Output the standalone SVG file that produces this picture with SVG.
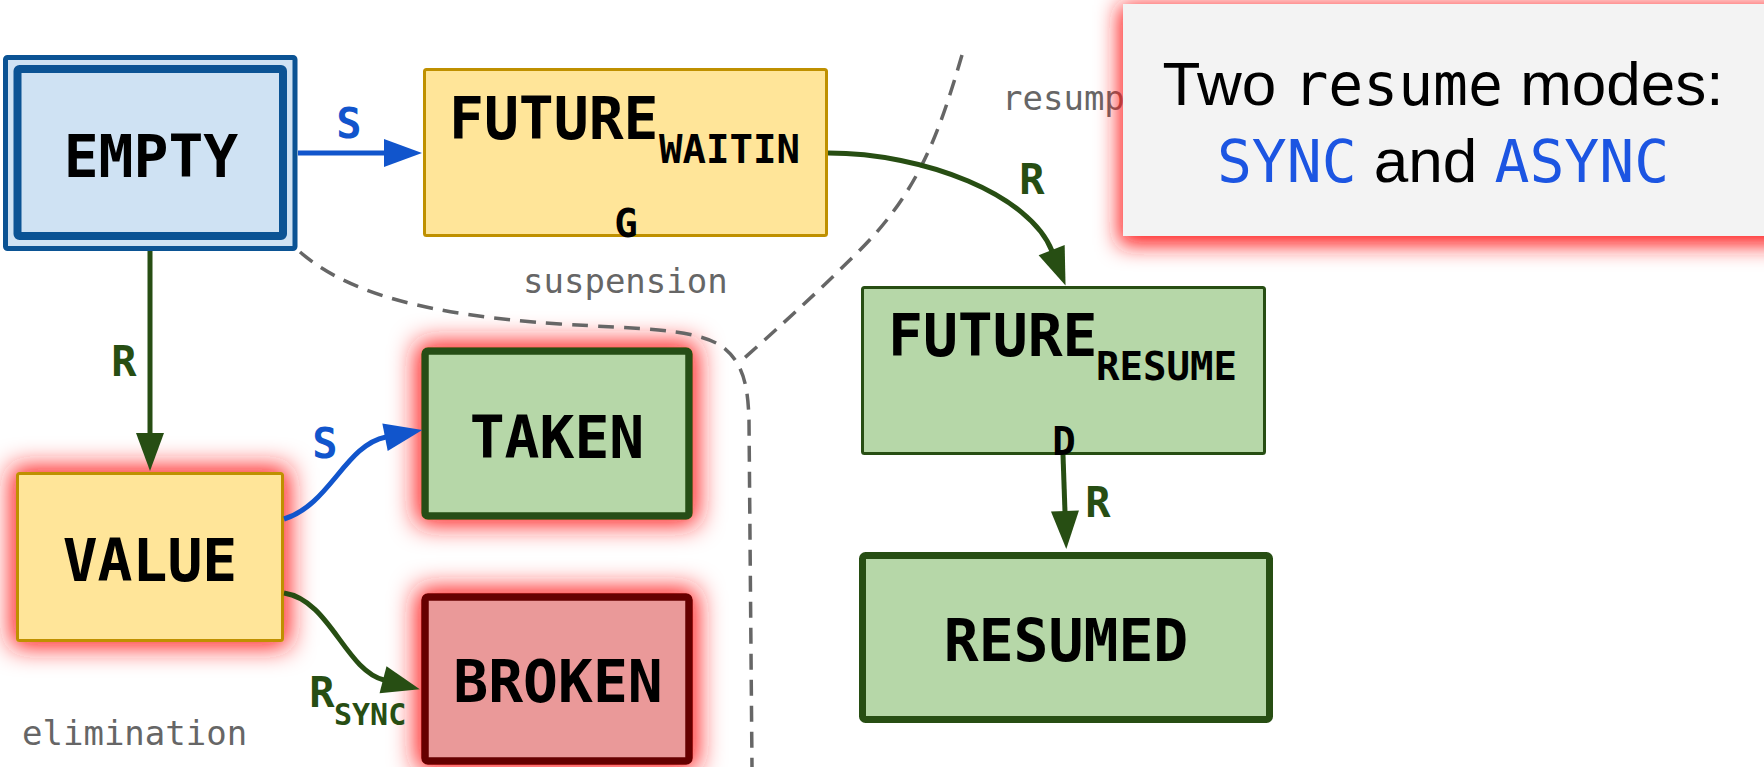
<svg xmlns="http://www.w3.org/2000/svg" width="1764" height="767" viewBox="0 0 1764 767">
<style>
.nt{font-family:"DejaVu Sans Mono",monospace;font-weight:bold;font-size:58px;fill:#000;text-anchor:middle}
.sub{font-family:"DejaVu Sans Mono",monospace;font-weight:bold;font-size:39px;fill:#000}
.lbl{font-family:"DejaVu Sans Mono",monospace;font-weight:bold;font-size:42px;text-anchor:middle}
.gray{font-family:"DejaVu Sans Mono",monospace;font-size:34px;fill:#666666}
.yel{fill:#ffe599;stroke:#bf9000;stroke-width:3}
.grn{fill:#b6d7a8;stroke:#274e13}
.dash{fill:none;stroke:#666666;stroke-width:3.5;stroke-dasharray:16 10}
.blue{fill:none;stroke:#1155cc;stroke-width:5}
.green{fill:none;stroke:#274e13;stroke-width:5}
.sans{font-family:"Liberation Sans",Arial,sans-serif;font-size:62px;fill:#000}
.mono{font-family:"DejaVu Sans Mono",monospace;font-size:58px}
</style>
<defs>
<filter id="glow" x="-40%" y="-40%" width="180%" height="180%">
<feMorphology in="SourceAlpha" operator="dilate" radius="5" result="d"/>
<feGaussianBlur in="d" stdDeviation="13" result="b"/>
<feFlood flood-color="#ff1a1a"/>
<feComposite in2="b" operator="in" result="g"/>
<feMerge><feMergeNode in="g"/><feMergeNode in="SourceGraphic"/></feMerge>
</filter>
<filter id="glow2" x="-20%" y="-30%" width="140%" height="160%">
<feMorphology in="SourceAlpha" operator="dilate" radius="4" result="d"/>
<feGaussianBlur in="d" stdDeviation="11" result="b"/>
<feOffset in="b" dy="5" result="bo"/>
<feFlood flood-color="#ff1a1a"/>
<feComposite in2="bo" operator="in" result="g"/>
<feMerge><feMergeNode in="g"/><feMergeNode in="SourceGraphic"/></feMerge>
</filter>
<marker id="ab" markerUnits="userSpaceOnUse" markerWidth="40" markerHeight="30" refX="1" refY="14" orient="auto" overflow="visible">
<path d="M0,0 L38,14 L0,28 z" fill="#1155cc"/>
</marker>
<marker id="ag" markerUnits="userSpaceOnUse" markerWidth="40" markerHeight="30" refX="1" refY="14" orient="auto" overflow="visible">
<path d="M0,0 L38,14 L0,28 z" fill="#274e13"/>
</marker>
</defs>
<rect width="1764" height="767" fill="#ffffff"/>

<g id="node-empty">
<rect x="5.5" y="57.5" width="289.5" height="191" rx="2" fill="#cfe2f3" stroke="#0b5394" stroke-width="5"/>
<rect x="17.5" y="69" width="265.5" height="167" rx="2" fill="#cfe2f3" stroke="#0b5394" stroke-width="8"/>
<text class="nt" x="151" y="177">EMPTY</text>
</g>
<g id="node-future-waiting">
<rect class="yel" x="424.5" y="69.5" width="402" height="166" rx="2"/>
<text class="nt" x="449" y="139" style="text-anchor:start">FUTURE</text>
<text class="sub" x="659" y="163">WAITIN</text>
<text class="sub" x="626" y="237" style="text-anchor:middle">G</text>
</g>
<g id="node-future-resumed">
<rect class="grn" x="862.5" y="287.5" width="402" height="166" rx="2" stroke-width="3"/>
<text class="nt" x="888" y="356" style="text-anchor:start">FUTURE</text>
<text class="sub" x="1096" y="380">RESUME</text>
<text class="sub" x="1064" y="455" style="text-anchor:middle">D</text>
</g>
<g id="node-resumed">
<rect class="grn" x="862.5" y="555.5" width="407" height="164" rx="3" stroke-width="7"/>
<text class="nt" x="1066" y="661">RESUMED</text>
</g>
<g id="node-value" filter="url(#glow)">
<rect class="yel" x="17.5" y="473.5" width="265" height="167" rx="2"/>
<text class="nt" x="150" y="581">VALUE</text>
</g>
<g id="node-taken" filter="url(#glow)">
<rect class="grn" x="425" y="351" width="264" height="165" rx="3" stroke-width="7.5"/>
<text class="nt" x="557" y="458">TAKEN</text>
</g>
<g id="node-broken" filter="url(#glow)">
<rect x="425" y="597" width="264" height="164" rx="3" fill="#ea9999" stroke="#660000" stroke-width="7.5"/>
<text class="nt" x="558" y="702">BROKEN</text>
</g>

<g id="regions">
<path class="dash" d="M300,252 C350,295 430,315 560,324 C640,329 690,328 720,345 C745,362 748,390 749,420 L752,767"/>
<path class="dash" d="M962,55 C940,130 920,190 860,250 C810,300 770,335 740,362"/>
<text class="gray" x="523" y="293">suspension</text>
<text class="gray" x="22" y="745">elimination</text>
<text class="gray" x="1002" y="110">resump</text>
</g>

<g id="connectors">
<path class="blue" d="M298,153 L385,153" marker-end="url(#ab)"/>
<text class="lbl" x="349" y="138" fill="#1155cc">S</text>
<path class="green" d="M150,251 L150,434" marker-end="url(#ag)"/>
<text class="lbl" x="124" y="376" fill="#274e13">R</text>
<path class="green" d="M828,153 C925,153 1030,195 1052,251" marker-end="url(#ag)"/>
<text class="lbl" x="1032" y="194" fill="#274e13">R</text>
<path class="green" d="M1063,455 L1065,512" marker-end="url(#ag)"/>
<text class="lbl" x="1098" y="517" fill="#274e13">R</text>
<path class="blue" d="M284,519 C330,505 345,445 386,437" marker-end="url(#ab)"/>
<text class="lbl" x="325" y="458" fill="#1155cc">S</text>
<path class="green" d="M284,593 C330,600 345,670 384,680" marker-end="url(#ag)"/>
<text class="lbl" x="322" y="707" fill="#274e13">R</text>
<text x="334" y="725" font-family="DejaVu Sans Mono, monospace" font-weight="bold" font-size="30" fill="#274e13">SYNC</text>
</g>

<g id="note" filter="url(#glow2)">
<rect x="1123" y="4" width="700" height="232" fill="#f3f3f3"/>
<text x="1443" y="105" text-anchor="middle"><tspan class="sans">Two </tspan><tspan class="mono" fill="#000">resume</tspan><tspan class="sans"> modes:</tspan></text>
<text x="1443" y="182" text-anchor="middle"><tspan class="mono" fill="#1b55e2">SYNC</tspan><tspan class="sans"> and </tspan><tspan class="mono" fill="#1b55e2">ASYNC</tspan></text>
</g>
</svg>
